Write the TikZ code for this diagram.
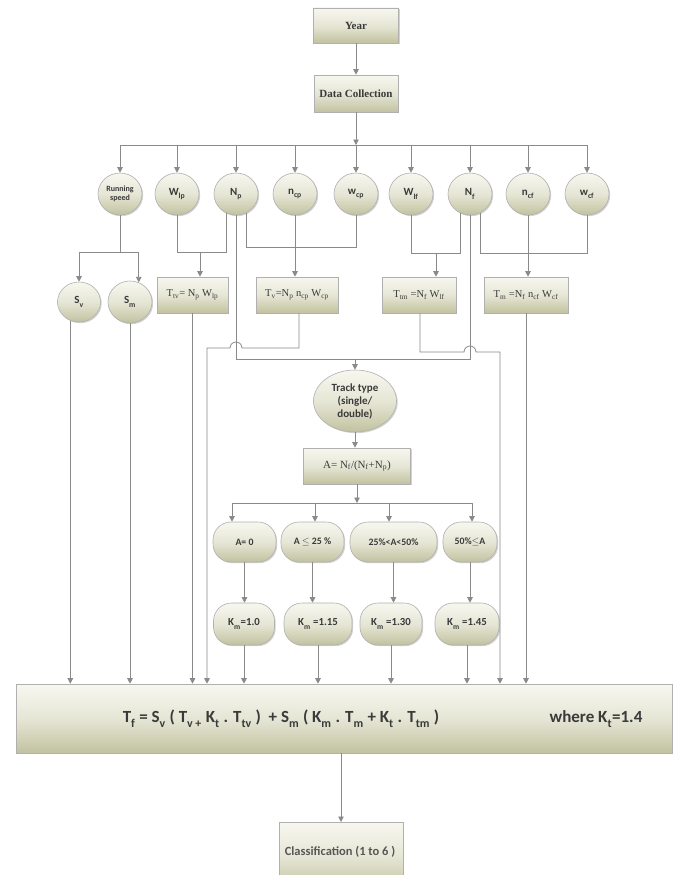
\documentclass[tikz,border=0pt]{standalone}
\usepackage{fontspec}
\setmainfont{Liberation Serif}
\setsansfont{Carlito}
\usetikzlibrary{arrows.meta,shapes.geometric,shadows}
\definecolor{lc}{HTML}{8A8A8A}
\definecolor{ftop}{HTML}{F7F7EF}
\definecolor{fmid}{HTML}{E6E6D6}
\definecolor{fbot}{HTML}{C2C2A0}
\definecolor{txt}{HTML}{3A3A3A}
\definecolor{bd}{HTML}{B0B0B0}
\newcommand\sbs[1]{\raisebox{-0.3ex}{\textsubscript{#1}}}
\tikzset{
  base/.style={draw=bd, line width=0.6pt, text=txt, inner sep=1pt, align=center,
    drop shadow={shadow xshift=1.2pt, shadow yshift=-1.2pt, opacity=0.35}},
  rbox/.style={base, rectangle, top color=ftop, bottom color=fbot, middle color=fmid},
  oval/.style={base, ellipse, top color=ftop, bottom color=fbot, middle color=fmid,
    minimum width=44pt, minimum height=42pt, font=\sffamily\bfseries\fontsize{11}{12}\selectfont},
  pill/.style={base, rectangle, rounded corners=18pt, top color=ftop, bottom color=fbot, middle color=fmid,
    font=\sffamily\bfseries\fontsize{9.8}{11}\selectfont},
  fbox/.style={rbox, minimum height=36pt, font=\rmfamily\fontsize{10.5}{12}\selectfont},
  ln/.style={draw=lc, line width=0.8pt},
  arr/.style={ln, -{Triangle[length=5.5pt,width=5.5pt]}},
}
\begin{document}
\begin{tikzpicture}[x=1pt,y=-1pt]
\useasboundingbox (0,0) rectangle (677,875);
\clip (0,0) rectangle (677,875);
\fill[white] (0,0) rectangle (677,875);

% top boxes
\node[rbox, minimum width=85pt, minimum height=35pt, font=\rmfamily\bfseries\fontsize{11}{13}\selectfont] (year) at (356,25.5) {Year};
\node[rbox, minimum width=84pt, minimum height=37pt, font=\rmfamily\bfseries\fontsize{11}{13}\selectfont] (dc) at (356,93.5) {Data Collection};

% circles row
\node[oval, font=\sffamily\bfseries\fontsize{8}{9.5}\selectfont] (rs)  at (120,194) {Running\\speed};
\node[oval] (wlp) at (177,194) {W\sbs{lp}};
\node[oval] (np)  at (236,194) {N\sbs{p}};
\node[oval] (ncp) at (295,194) {n\sbs{cp}};
\node[oval] (wcp) at (356,194) {w\sbs{cp}};
\node[oval] (wlf) at (411,194) {W\sbs{lf}};
\node[oval] (nf)  at (470,194) {N\sbs{f}};
\node[oval] (ncf) at (528,194) {n\sbs{cf}};
\node[oval] (wcf) at (587,194) {w\sbs{cf}};

% second row
\node[oval, minimum width=43pt, minimum height=40pt] (sv) at (79,302) {S\sbs{v}};
\node[oval] (sm) at (130,302) {S\sbs{m}};
\node[fbox, minimum width=71pt] (ttv) at (192.5,295) {T\textsubscript{tv}= N\textsubscript{p} W\textsubscript{lp}};
\node[fbox, minimum width=82pt] (tv)  at (297,295) {T\textsubscript{v}=N\textsubscript{p} n\textsubscript{cp} W\textsubscript{cp}};
\node[fbox, minimum width=74pt] (ttm) at (419,295) {T\textsubscript{tm} =N\textsubscript{f} W\textsubscript{lf}};
\node[fbox, minimum width=84pt] (tm)  at (526,295) {T\textsubscript{m} =N\textsubscript{f} n\textsubscript{cf} W\textsubscript{cf}};

% middle
\node[oval, minimum width=83pt, minimum height=62pt, font=\sffamily\bfseries\fontsize{11}{13}\selectfont] (track) at (355,401) {Track type\\(single/\\double)};
\node[fbox, minimum width=107pt, font=\rmfamily\fontsize{11}{13}\selectfont] (abox) at (357,466) {A= N\textsubscript{f}/(N\textsubscript{f}+N\textsubscript{p})};

\node[pill, minimum width=63pt, minimum height=40pt] (c1) at (244.5,542) {A= 0};
\node[pill, minimum width=63pt, minimum height=40pt] (c2) at (312.5,542) {A $\leq$ 25 \%};
\node[pill, minimum width=87pt, minimum height=40pt] (c3) at (393.5,542) {25\%<A<50\%};
\node[pill, minimum width=54pt, minimum height=40pt] (c4) at (470,542) {50\%$\leq$A};

\node[pill, minimum width=61pt, minimum height=42pt, font=\sffamily\bfseries\fontsize{10.8}{12}\selectfont] (k1) at (244,624) {K\sbs{m}=1.0};
\node[pill, minimum width=68pt, minimum height=42pt, font=\sffamily\bfseries\fontsize{10.8}{12}\selectfont] (k2) at (318,624) {K\sbs{m} =1.15};
\node[pill, minimum width=62pt, minimum height=42pt, font=\sffamily\bfseries\fontsize{10.8}{12}\selectfont] (k3) at (391,624) {K\sbs{m} =1.30};
\node[pill, minimum width=64pt, minimum height=42pt, font=\sffamily\bfseries\fontsize{10.8}{12}\selectfont] (k4) at (467,624) {K\sbs{m} =1.45};

% big box
\node[rbox, minimum width=656pt, minimum height=69pt] (big) at (344,718.5) {};
\node[text=txt, font=\sffamily\bfseries\fontsize{17}{19}\selectfont] (f1) at (281,719) {T\sbs{f} = S\sbs{v} ( T\sbs{v +} K\sbs{t} . T\sbs{tv} )\ \ + S\sbs{m} ( K\sbs{m} . T\sbs{m} + K\sbs{t} . T\sbs{tm} )};
\node[text=txt, font=\sffamily\bfseries\fontsize{17}{19}\selectfont] (f2) at (596,719) {where K\sbs{t}=1.4};

% classification
\node[rbox, minimum width=124pt, minimum height=68pt, anchor=north] (cls) at (341,822) {};
\node[text=txt!85, font=\sffamily\bfseries\fontsize{12.5}{14}\selectfont] (clt) at (340,852) {Classification (1 to 6 )};

% ---- connectors ----
\coordinate (bl) at (120,145);
\coordinate (br) at (587,145);
\draw[arr] (year.south) -- (dc.north);
\draw[arr] (dc.south) -- (dc.south |- bl);
\draw[ln] (bl) -- (br);
\foreach \n in {rs,wlp,np,ncp,wcp,wlf,nf,ncf,wcf}
  \draw[arr] (\n.north |- bl) -- (\n.north);

% running speed -> S_v, S_m
\coordinate (j1) at (120,252);
\draw[ln] (rs.south) -- (j1);
\draw[ln] (sv.north |- j1) -- (sm.66 |- j1);
\draw[arr] (sv.north |- j1) -- (sv.north);
\draw[arr] (sm.66 |- j1) -- (sm.66);

% W_lp, N_p -> T_tv
\coordinate (j2) at (200,252);
\draw[ln] (wlp.south) -- (wlp.south |- j2) -- (np.-118 |- j2) -- (np.-118);
\draw[arr] (j2) -- (j2 |- ttv.north);

% N_p, w_cp ; n_cp -> T_v
\coordinate (j3) at (246,247);
\draw[ln] (np.-62) -- (np.-62 |- j3) -- (wcp.south |- j3) -- (wcp.south);
\draw[arr] (ncp.south) -- (ncp.south |- tv.north);

% W_lf, N_f -> T_tm
\coordinate (j5) at (436,253);
\draw[ln] (wlf.south) -- (wlf.south |- j5) -- (nf.-118 |- j5) -- (nf.-118);
\draw[arr] (j5) -- (j5 |- ttm.north);

% N_f, w_cf ; n_cf -> T_m
\draw[ln] (nf.-62) -- (nf.-62 |- j5) -- (wcf.south |- j5) -- (wcf.south);
\draw[arr] (ncf.south) -- (ncf.south |- tm.north);

% N_p and N_f -> track type
\coordinate (j4) at (355,359);
\draw[ln] (np.south) -- (np.south |- j4) -- (nf.south |- j4) -- (nf.south);
\draw[arr] (j4) -- (track.north);

% T_v route with hop over N_p line
\coordinate (h1) at (299,348);
\coordinate (h2) at (207,348);
\draw[arr] (tv.south -| h1) -- (h1) -- (242,348) arc[start angle=0, end angle=180, radius=6pt] -- (h2) -- (h2 |- big.north);

% T_tm route with hop over N_f line
\coordinate (h3) at (420,352);
\coordinate (h4) at (500,352);
\draw[arr] (ttm.south -| h3) -- (h3) -- (464,352) arc[start angle=180, end angle=0, radius=6pt] -- (h4) -- (h4 |- big.north);

% straight drops into big box
\draw[arr] (sv.-115) -- (sv.-115 |- big.north);
\draw[arr] (sm.south) -- (sm.south |- big.north);
\draw[arr] (ttv.south) -- (ttv.south |- big.north);
\draw[arr] (tm.south) -- (tm.south |- big.north);

% track -> A -> conditions
\draw[arr] (track.south) -- (track.south |- abox.north);
\coordinate (j6) at (357,503);
\draw[arr] (abox.south) -- (j6);
\coordinate (b1) at (232,503);
\coordinate (b2) at (315,503);
\coordinate (b3) at (389,503);
\coordinate (b4) at (472,503);
\draw[ln] (b1) -- (b4);
\draw[arr] (b1) -- (b1 |- c1.north);
\draw[arr] (b2) -- (b2 |- c2.north);
\draw[arr] (b3) -- (b3 |- c3.north);
\draw[arr] (b4) -- (b4 |- c4.north);

\draw[arr] (c1.south) -- (c1.south |- k1.north);
\draw[arr] (c2.south) -- (c2.south |- k2.north);
\draw[arr] (c3.south) -- (c3.south |- k3.north);
\draw[arr] (c4.south) -- (c4.south |- k4.north);

\draw[arr] (k1.south) -- (k1.south |- big.north);
\draw[arr] (k2.south) -- (k2.south |- big.north);
\draw[arr] (k3.south) -- (k3.south |- big.north);
\draw[arr] (k4.south) -- (k4.south |- big.north);

\draw[arr] (cls.north |- big.south) -- (cls.north);
\end{tikzpicture}
\end{document}
